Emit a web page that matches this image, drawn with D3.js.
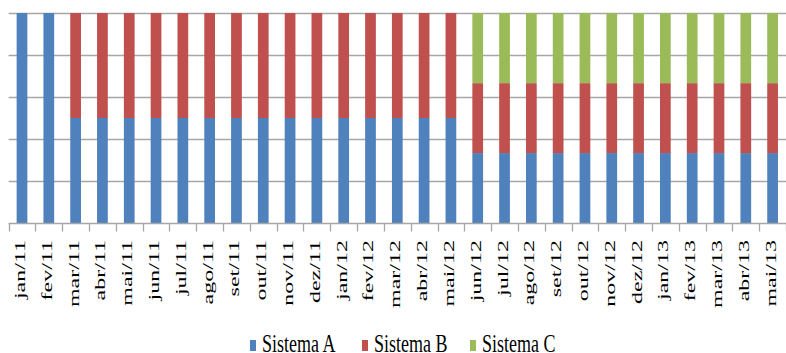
<!DOCTYPE html>
<html>
<head>
<meta charset="utf-8">
<script src="https://cdn.jsdelivr.net/npm/d3@7"></script>
<style>
  html, body { margin: 0; padding: 0; background: #fff; overflow: hidden; }
</style>
</head>
<body>
<div id="main"></div>
<script>
const months = ['jan/11','fev/11','mar/11','abr/11','mai/11','jun/11','jul/11','ago/11','set/11','out/11','nov/11','dez/11',
  'jan/12','fev/12','mar/12','abr/12','mai/12','jun/12','jul/12','ago/12','set/12','out/12','nov/12','dez/12',
  'jan/13','fev/13','mar/13','abr/13','mai/13'];
const sistemaA = [100,100,50,50,50,50,50,50,50,50,50,50,50,50,50,50,50,33.3,33.3,33.3,33.3,33.3,33.3,33.3,33.3,33.3,33.3,33.3,33.3];
const sistemaB = [0,0,50,50,50,50,50,50,50,50,50,50,50,50,50,50,50,33.3,33.3,33.3,33.3,33.3,33.3,33.3,33.3,33.3,33.3,33.3,33.3];
const sistemaC = [0,0,0,0,0,0,0,0,0,0,0,0,0,0,0,0,0,33.4,33.4,33.4,33.4,33.4,33.4,33.4,33.4,33.4,33.4,33.4,33.4];
const seriesNames = ['Sistema A','Sistema B','Sistema C'];
const colors = ['#4F81BD','#C0504D','#9BBB59'];
const yTicks = [0,20,40,60,80,100];

const W = 786, H = 353;
const FONT = 'Liberation Serif';
const plot = { left: 8.6, right: 786, top: 13, bottom: 223 };

const rows = months.map((m, i) => ({ month: m, 'Sistema A': sistemaA[i], 'Sistema B': sistemaB[i], 'Sistema C': sistemaC[i] }));
const stacked = d3.stack().keys(seriesNames)(rows);

const x = d3.scaleBand().domain(months).range([plot.left, plot.right]).paddingInner(0.6).paddingOuter(0.3);
const xBound = d3.scaleBand().domain(months).range([plot.left, plot.right]);
const y = d3.scaleLinear().domain([0, 100]).range([plot.bottom, plot.top]);

const svg = d3.select('#main').append('svg').attr('width', W).attr('height', H);

// gridlines
svg.append('g').selectAll('line').data(yTicks.slice(1)).enter().append('line')
  .attr('x1', plot.left).attr('x2', plot.right)
  .attr('y1', d => Math.round(y(d)) + 0.5).attr('y2', d => Math.round(y(d)) + 0.5)
  .attr('stroke', '#a6a6a6').attr('stroke-width', 1.3);

// bars
svg.append('g').selectAll('g').data(stacked).enter().append('g')
  .attr('fill', (d, i) => colors[i])
  .selectAll('rect').data(d => d).enter().append('rect')
  .attr('x', d => x(d.data.month))
  .attr('width', x.bandwidth())
  .attr('y', d => y(d[1]))
  .attr('height', d => y(d[0]) - y(d[1]));

// x axis
const axisY = Math.round(plot.bottom) + 0.5;
svg.append('line').attr('x1', plot.left).attr('x2', plot.right).attr('y1', axisY).attr('y2', axisY)
  .attr('stroke', '#a6a6a6').attr('stroke-width', 1.3);
const bounds = months.map(m => xBound(m)).concat([plot.right - 0.5]);
svg.append('g').selectAll('line').data(bounds).enter().append('line')
  .attr('x1', d => Math.round(d) + 0.5).attr('x2', d => Math.round(d) + 0.5)
  .attr('y1', axisY).attr('y2', axisY + 8)
  .attr('stroke', '#a6a6a6').attr('stroke-width', 1.3);

svg.append('g').selectAll('text').data(months).enter().append('text')
  .attr('transform', d => `translate(${xBound(d) + xBound.bandwidth() / 2 + 3},240) rotate(-90) scale(1.6,1)`)
  .attr('text-anchor', 'end')
  .style('font-family', FONT)
  .attr('font-size', 15)
  .attr('fill', '#000')
  .text(d => d);

// legend
const legendX = [250, 362, 470];
const legend = svg.append('g').selectAll('g').data(seriesNames).enter().append('g')
  .attr('transform', (d, i) => `translate(${legendX[i]},340)`);
legend.append('rect').attr('width', 6).attr('height', 11).attr('fill', (d, i) => colors[i]);
legend.append('text')
  .attr('transform', 'translate(12,11.5) scale(1,1.4)')
  .style('font-family', FONT)
  .attr('font-size', 18).attr('fill', '#000').text(d => d);
</script>
</body>
</html>
